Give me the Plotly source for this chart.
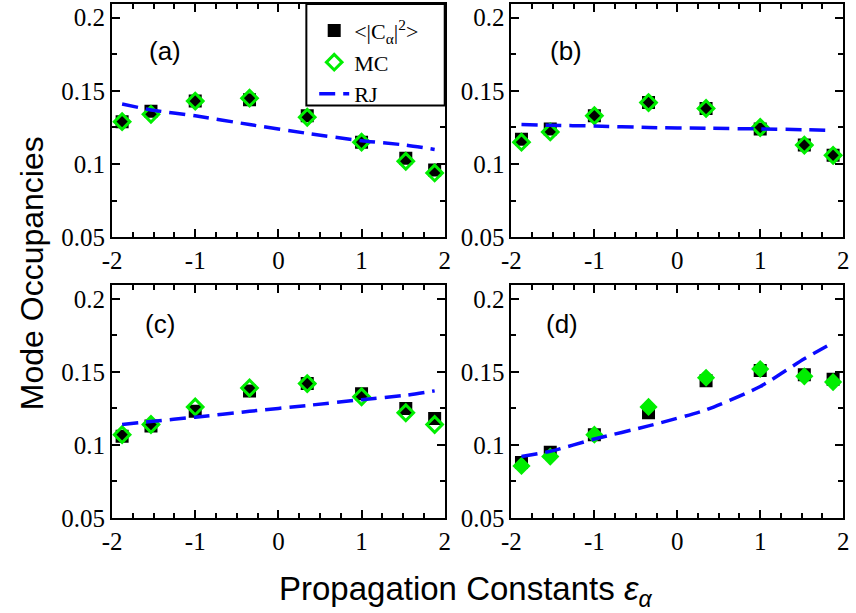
import plotly.graph_objects as go

# ---- data ----
eps = [-1.879, -1.532, -1.0, -0.347, 0.347, 1.0, 1.532, 1.879]

c2_a = [0.129, 0.136, 0.143, 0.144, 0.133, 0.115, 0.104, 0.096]
mc_a = [0.129, 0.134, 0.143, 0.145, 0.132, 0.115, 0.102, 0.094]
rj_a = [0.141, 0.137, 0.133, 0.127, 0.121, 0.116, 0.113, 0.110]

c2_b = [0.117, 0.124, 0.133, 0.142, 0.138, 0.124, 0.113, 0.106]
mc_b = [0.115, 0.122, 0.133, 0.142, 0.138, 0.125, 0.113, 0.106]
rj_b = [0.127, 0.1265, 0.126, 0.125, 0.1245, 0.124, 0.1235, 0.123]

c2_c = [0.106, 0.113, 0.123, 0.137, 0.142, 0.135, 0.125, 0.118]
mc_c = [0.107, 0.114, 0.126, 0.139, 0.142, 0.133, 0.122, 0.114]
rj_c = [0.114, 0.116, 0.119, 0.123, 0.127, 0.131, 0.134, 0.137]

c2_d = [0.088, 0.095, 0.107, 0.122, 0.144, 0.151, 0.148, 0.145]
mc_d = [0.0856, 0.092, 0.107, 0.126, 0.146, 0.152, 0.147, 0.143]
rj_d = [0.092, 0.0956, 0.104, 0.113, 0.124, 0.140, 0.159, 0.170]

panel_labels = ["(a)", "(b)", "(c)", "(d)"]
x_tickvals = [-2, -1, 0, 1, 2]
x_ticktext = ["-2", "-1", "0", "1", "2"]
y_tickvals = [0.05, 0.1, 0.15, 0.2]
y_ticktext = ["0.05", "0.1", "0.15", "0.2"]

W, H = 856, 613
SERIF = "Liberation Serif, Times New Roman, serif"
SANS = "Liberation Sans, Arial, sans-serif"

panels = [
    (c2_a, mc_a, rj_a, False),
    (c2_b, mc_b, rj_b, False),
    (c2_c, mc_c, rj_c, False),
    (c2_d, mc_d, rj_d, True),
]

# pixel boxes of the plot areas (left, right, top, bottom)
boxes = [(104, 443, 4, 243), (511, 849, 4, 243), (104, 443, 292, 530), (511, 849, 292, 530)]
label_pos = [(158, 52), (567, 52), (153, 332), (563, 332)]

fig = go.Figure()
for i, (c2, mc, rj, filled) in enumerate(panels):
    n = "" if i == 0 else str(i + 1)
    xa, ya = "x" + n, "y" + n
    show = i == 0
    fig.add_trace(go.Scatter(
        x=eps, y=c2, mode="markers", xaxis=xa, yaxis=ya,
        name="&lt;|C<sub>α</sub>|<sup>2</sup>&gt;", showlegend=show,
        marker=dict(symbol="square", size=13, color="black", line=dict(width=0)),
    ))
    fig.add_trace(go.Scatter(
        x=eps, y=mc, mode="markers", xaxis=xa, yaxis=ya,
        name="MC", showlegend=show,
        marker=dict(symbol="diamond" if filled else "diamond-open", size=12 if not filled else 14,
                    color="#00ee00", line=dict(width=3 if not filled else 0, color="#00ee00")),
    ))
    fig.add_trace(go.Scatter(
        x=eps, y=rj, mode="lines", xaxis=xa, yaxis=ya,
        name="RJ", showlegend=show,
        line=dict(color="#0a0aff", width=3.5, dash="16px,8px", shape="spline", smoothing=0.6),
    ))
    l, r, t, b = boxes[i]
    fig.layout["xaxis" + n] = go.layout.XAxis(
        domain=[l / W, r / W], range=[-2, 2], anchor=ya,
        tickmode="array", tickvals=x_tickvals, ticktext=x_ticktext,
    )
    fig.layout["yaxis" + n] = go.layout.YAxis(
        domain=[1 - b / H, 1 - t / H], range=[0.05, 0.2093], anchor=xa,
        tickmode="array", tickvals=y_tickvals, ticktext=y_ticktext,
    )

common = dict(showline=True, linewidth=2, linecolor="black", mirror="allticks",
              ticks="inside", ticklen=8, tickwidth=1.5, tickcolor="black",
              showgrid=False, zeroline=False,
              tickfont=dict(family=SERIF, size=25, color="black"))
fig.update_xaxes(**common, minor=dict(tickmode="linear", tick0=-2, dtick=0.25, ticks="inside",
                                      ticklen=5, tickwidth=1.5, tickcolor="black"))
fig.update_yaxes(**common, minor=dict(tickmode="linear", tick0=0.05, dtick=0.025, ticks="inside",
                                      ticklen=5, tickwidth=1.5, tickcolor="black"))

annotations = []
for lab, (px, py) in zip(panel_labels, label_pos):
    annotations.append(dict(text=lab, x=px / W, y=1 - py / H, xref="paper", yref="paper",
                            showarrow=False, xanchor="center", yanchor="middle",
                            font=dict(family=SANS, size=26, color="black")))
annotations.append(dict(text="Mode Occupancies", x=22 / W, y=1 - 280 / H, xref="paper", yref="paper",
                        showarrow=False, textangle=-90, xanchor="center", yanchor="middle",
                        font=dict(family=SANS, size=32, color="black")))
annotations.append(dict(text="Propagation Constants <i>ε<sub>α</sub></i>", x=464 / W, y=1 - 605 / H,
                        xref="paper", yref="paper", showarrow=False, xanchor="center", yanchor="middle",
                        font=dict(family=SANS, size=33, color="black")))

# legend frame
shapes = [dict(type="rect", xref="paper", yref="paper",
               x0=302 / W, x1=443 / W, y0=1 - 108 / H, y1=1 - 4 / H,
               line=dict(color="black", width=2), fillcolor="white", layer="above")]

fig.update_layout(
    width=W, height=H, autosize=False,
    margin=dict(l=0, r=0, t=0, b=0),
    paper_bgcolor="white", plot_bgcolor="white",
    annotations=annotations, shapes=shapes,
    legend=dict(x=310 / W, y=1 - 10 / H, xanchor="left", yanchor="top",
                borderwidth=0, bgcolor="rgba(0,0,0,0)",
                font=dict(family=SERIF, size=22, color="black"),
                tracegroupgap=0, itemwidth=30),
)

fig.write_html("out.html")
